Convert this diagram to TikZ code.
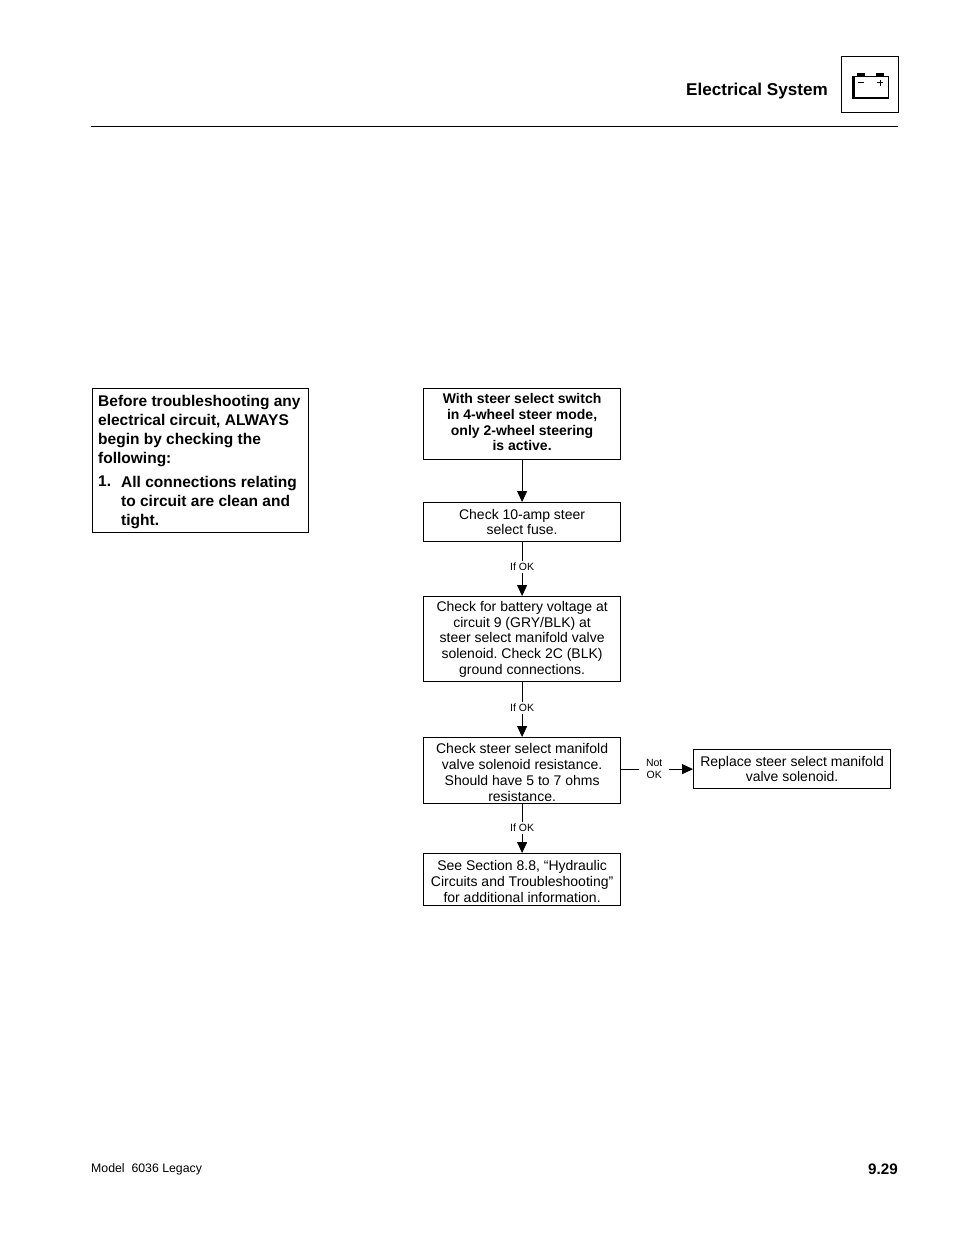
\documentclass[tikz,border=0pt]{standalone}
\usepackage{fontspec}
\setmainfont{Liberation Sans}
\usetikzlibrary{arrows.meta,positioning}
\newcommand{\liftup}{\rule[-4pt]{0pt}{1pt}}
\newcommand{\pushdown}{\rule{0pt}{14pt}}
\tikzset{
  flowbox/.style={draw=black,line width=0.8pt,inner sep=0pt,minimum width=197.4pt,align=center,
    font=\fontsize{14}{15.7}\selectfont,anchor=north west},
  boldbox/.style={flowbox,font=\fontsize{14}{15.7}\selectfont\bfseries},
  conn/.style={draw=black,line width=0.8pt,-{Triangle[length=11pt,width=10pt]}},
  edgelabel/.style={fill=white,inner xsep=1pt,inner ysep=2pt,font=\fontsize{10.5}{11.4}\selectfont,align=center},
  plaintext/.style={inner sep=0pt,anchor=west},
  notefont/.style={inner sep=0pt,anchor=north west,align=left,font=\fontsize{15.5}{19}\selectfont\bfseries},
}
\begin{document}
\frenchspacing
\begin{tikzpicture}[x=1pt,y=-1pt]
\useasboundingbox (0,0) rectangle (954,1235);
\fill[white] (0,0) rectangle (954,1235);
% header
\node[plaintext,anchor=east,font=\fontsize{17.1}{18}\selectfont\bfseries] (title) at (828,91) {Electrical System};
\draw[line width=0.8pt] (91,126.5) -- (898,126.5);
\draw[line width=0.8pt] (841.5,56.5) rectangle (898.5,112.5);
% battery icon
\fill (857,73) rectangle (865,76.5);
\fill (876,73) rectangle (884,76.5);
\draw[line width=0.7pt] (853,76.5) -- (888,76.5) -- (888,98);
\fill (852,76) rectangle (854.5,99);
\fill (852,97) rectangle (888.5,99);
\draw[line width=0.8pt] (858,82.5) -- (864,82.5);
\draw[line width=0.8pt] (877,82.5) -- (883,82.5) (880,79.5) -- (880,85.5);
% note box
\node[draw=black,line width=0.8pt,inner sep=0pt,anchor=north west,minimum width=216.4pt,minimum height=144.4pt] (note) at (92,388) {};
\node[notefont] (notetext) at (98,395.5) {Before troubleshooting any\\electrical circuit, ALWAYS\\begin by checking the\\following:};
\node[notefont] (notenum) at (98,476) {1.};
\node[notefont] (noteitem) at (121,476) {All connections relating\\to circuit are clean and\\tight.};
% flow boxes
\node[boldbox,minimum height=71.4pt] (a) at (423,388) {With steer select switch\\in 4-wheel steer mode,\\only 2-wheel steering\\is active.\liftup};
\node[flowbox,minimum height=39.4pt] (b) at (423,502) {Check 10-amp steer\\select fuse.};
\node[flowbox,minimum height=85.4pt] (c) at (423,596) {Check for battery voltage at\\circuit 9 (GRY/BLK) at\\steer select manifold valve\\solenoid. Check 2C (BLK)\\ground connections.};
\node[flowbox,minimum height=66.4pt] (d) at (423,737) {\pushdown Check steer select manifold\\valve solenoid resistance.\\Should have 5 to 7 ohms\\resistance.};
\node[flowbox,minimum height=52.4pt] (e) at (423,853) {\pushdown See Section 8.8, “Hydraulic\\Circuits and Troubleshooting”\\for additional information.};
\node[flowbox,minimum height=39.4pt] (f) at (693,749) {Replace steer select manifold\\valve solenoid.};
% connectors
\draw[conn] (a.south) -- (b.north);
\draw[conn] (b.south) -- node[edgelabel,pos=0.46] (l1) {If OK} (c.north);
\draw[conn] (c.south) -- node[edgelabel,pos=0.47] (l2) {If OK} (d.north);
\draw[conn] (d.south) -- node[edgelabel,pos=0.49] (l3) {If OK} (e.north);
\draw[conn] (d.east |- f.west) -- node[edgelabel,pos=0.46,inner xsep=7pt,font=\fontsize{10.5}{12}\selectfont] (l4) {Not\\OK} (f.west);
% footer
\node[plaintext,font=\fontsize{12.3}{13}\selectfont] (model) at (91,1169) {Model\ \ 6036 Legacy};
\node[plaintext,anchor=east,font=\fontsize{15.2}{16}\selectfont\bfseries] (page) at (898,1169) {9.29};
\end{tikzpicture}
\end{document}
